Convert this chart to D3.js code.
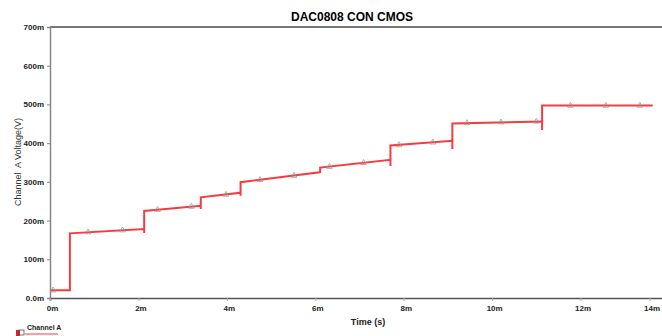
<!DOCTYPE html>
<html>
<head>
<meta charset="utf-8">
<script src="https://cdn.jsdelivr.net/npm/d3@7"></script>
<style>
  body { margin: 0; background: #fff; }
  svg { display: block; font-family: "Liberation Sans", Arial, sans-serif; }
</style>
</head>
<body>
<div id="chart"></div>
<script>
// step edges (ms) and levels (mV)
var stepTimes  = [0, 0.45, 2.13, 3.41, 4.31, 6.11, 7.7, 9.1, 11.13, 13.63];
var startVals  = [20, 167, 225, 260, 299, 337, 394, 451, 497];
var endVals    = [20, 178, 238, 272, 325, 357, 406, 456, 497];
var spikeVals  = [20, 168, 230, 264, 323, 341, 385, 434];

// grey probe markers
var markTimes  = [0.07, 0.86, 1.64, 2.43, 3.2, 3.98, 4.75, 5.52, 6.32, 7.09, 7.89, 8.66, 9.43, 10.2, 11.0, 11.77, 12.57, 13.34];
var markVals   = [20, 170, 175, 228, 236, 267, 305, 316, 339, 349, 395, 402, 452, 454, 456, 497, 497, 497];

var xTicks = [0, 2, 4, 6, 8, 10, 12, 14];
var yTicks = [0, 100, 200, 300, 400, 500, 600, 700];

var W = 662, H = 336;
var svg = d3.select("#chart").append("svg")
	.attr("width", W)
	.attr("height", H);

var x = d3.scaleLinear().domain([0, 14]).range([50, 669]);
var y = d3.scaleLinear().domain([0, 700]).range([298, 27]);

// build the stepped trace
var pts = [];
for (var i = 0; i < startVals.length; i++) {
	pts.push([stepTimes[i], startVals[i]]);
	pts.push([stepTimes[i + 1], endVals[i]]);
	if (i < spikeVals.length && i > 0) {
		pts.push([stepTimes[i + 1], spikeVals[i]]);
	}
}

// frame
svg.append("line")
	.attr("x1", 50).attr("x2", W)
	.attr("y1", 27).attr("y2", 27)
	.attr("stroke", "#777").attr("stroke-width", 2);

// y axis
var yAxis = svg.append("g")
	.attr("transform", "translate(50,0)")
	.call(d3.axisLeft(y).tickValues(yTicks).tickSize(3).tickFormat(function(d){
		return d == 0 ? "0.0m" : d + "m";
	}));
yAxis.select(".domain").attr("stroke", "#888").attr("stroke-width", 1.5);
yAxis.selectAll(".tick line").attr("stroke", "#888");
yAxis.selectAll("text")
	.attr("font-size", 8).attr("font-weight", "bold").attr("fill", "#222")
	.attr("font-family", "Liberation Sans, Arial, sans-serif");

// x axis
var xAxis = svg.append("g")
	.attr("transform", "translate(0,298)")
	.call(d3.axisBottom(x).tickValues(xTicks).tickSize(3).tickFormat(function(d){ return d + "m"; }));
xAxis.select(".domain").attr("stroke", "#555").attr("stroke-width", 1.5);
xAxis.selectAll(".tick line").attr("stroke", "#aaa");
xAxis.selectAll("text")
	.attr("font-size", 8).attr("font-weight", "bold").attr("fill", "#222")
	.attr("dx", 2).attr("dy", 7)
	.attr("font-family", "Liberation Sans, Arial, sans-serif");
// last label is pulled in so it stays on the page
xAxis.selectAll(".tick").filter(function(d){ return d == 14; })
	.attr("transform", "translate(650,0)");

// trace
var line = d3.line()
	.x(function(d){ return x(d[0]); })
	.y(function(d){ return y(d[1]); });

svg.append("path")
	.datum(pts)
	.attr("d", line)
	.attr("fill", "none")
	.attr("stroke", "#f43c40")
	.attr("stroke-width", 2)
	.attr("stroke-linejoin", "miter");

// markers
svg.selectAll(".mk")
	.data(markTimes)
	.enter()
	.append("path")
	.attr("class", "mk")
	.attr("d", d3.symbol().type(d3.symbolTriangle).size(14))
	.attr("transform", function(d, i){
		return "translate(" + x(d) + "," + y(markVals[i]) + ")";
	})
	.attr("fill", "none")
	.attr("stroke", "#999")
	.attr("stroke-width", 0.8);

// titles
svg.append("text")
	.attr("x", 352).attr("y", 21)
	.attr("text-anchor", "middle")
	.attr("font-size", 12).attr("font-weight", "bold")
	.text("DAC0808 CON CMOS");

svg.append("text")
	.attr("transform", "translate(21,162) rotate(-90)")
	.attr("text-anchor", "middle")
	.attr("font-size", 9).attr("fill", "#333")
	.style("white-space", "pre")
	.text("Channel  A Voltage(V)");

svg.append("text")
	.attr("x", 368).attr("y", 325)
	.attr("text-anchor", "middle")
	.attr("font-size", 9).attr("font-weight", "bold").attr("fill", "#222")
	.text("Time (s)");

// legend
var lg = svg.append("g").attr("transform", "translate(16,326)");
lg.append("rect").attr("x", 0).attr("y", 4).attr("width", 4).attr("height", 6).attr("fill", "#e02020");
lg.append("rect").attr("x", 3).attr("y", 4).attr("width", 5).attr("height", 5)
	.attr("fill", "none").attr("stroke", "#555").attr("stroke-width", 0.8);
lg.append("text").attr("x", 11).attr("y", 4)
	.attr("font-size", 7).attr("font-weight", "bold").attr("fill", "#222")
	.text("Channel A");
lg.append("line").attr("x1", 9).attr("x2", 42).attr("y1", 8).attr("y2", 8)
	.attr("stroke", "#f43c40").attr("stroke-width", 1);
</script>
</body>
</html>
